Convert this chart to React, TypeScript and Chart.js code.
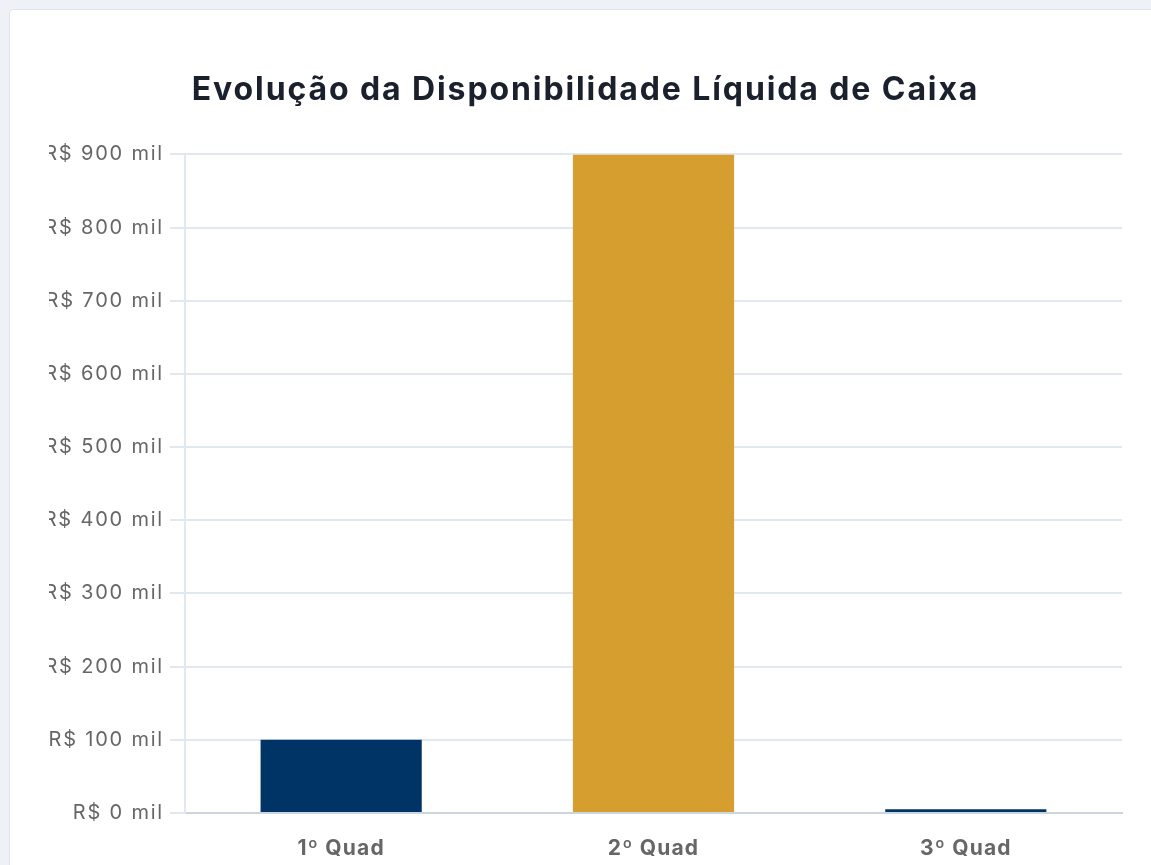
import React, { useEffect, useRef } from "react";
import { Chart, registerables } from "chart.js";

Chart.register(...registerables);

const categories = ["1º Quad", "2º Quad", "3º Quad"];
const values = [100000, 900000, 5000];
const barColors = ["#003366", "#D69E2E", "#003366"];
const titleText = "Evolução da Disponibilidade Líquida de Caixa";

function withSpacing(obj: any, method: string, spacing: string) {
  const orig = obj[method];
  obj[method] = function (...args: any[]) {
    const ctx = this.ctx;
    ctx.save();
    ctx.letterSpacing = spacing;
    const r = orig.apply(this, args);
    ctx.restore();
    return r;
  };
}

export default function App() {
  const ref = useRef<HTMLCanvasElement | null>(null);

  useEffect(() => {
    document.body.style.margin = "0";
    document.body.style.background = "#eef2f7";
    document.body.style.overflow = "hidden";
    if (!ref.current) return;
    const chart = new Chart(ref.current, {
      type: "bar",
      data: {
        labels: categories,
        datasets: [
          {
            data: values,
            backgroundColor: barColors,
            barPercentage: 0.645,
            categoryPercentage: 0.8,
          },
        ],
      },
      options: {
        animation: false,
        responsive: false,
        maintainAspectRatio: false,
        layout: { padding: { top: 0, right: 2, bottom: 0, left: 0 } },
        plugins: {
          legend: { display: false },
          tooltip: { enabled: false },
          title: {
            display: true,
            text: titleText,
            color: "#1a202c",
            font: { family: "Inter", size: 32, weight: "bold" },
            padding: { top: 26, bottom: 45 },
          },
        },
        scales: {
          x: {
            grid: { display: false, drawTicks: false },
            border: { color: "#cbd5e0", width: 2 },
            ticks: {
              color: "#666",
              padding: 23,
              font: { family: "Inter", size: 21, weight: "bold" },
            },
            afterFit: (s: any) => {
              s.height = 67;
            },
          },
          y: {
            beginAtZero: true,
            max: 900000,
            grid: { color: "#e2e8f0", tickLength: 15, lineWidth: 2 },
            border: { color: "#e2e8f0", width: 2 },
            ticks: {
              stepSize: 100000,
              color: "#666",
              padding: 6,
              font: { family: "Inter", size: 20 },
              callback: (v: any) => "R$ " + Number(v) / 1000 + " mil",
            },
            afterFit: (s: any) => {
              s.width = 136;
            },
          },
        },
      },
    });
    const c = chart as any;
    withSpacing(c.scales.x, "drawLabels", "1.2px");
    withSpacing(c.scales.y, "drawLabels", "1.8px");
    if (c.titleBlock) withSpacing(c.titleBlock, "draw", "1.9px");
    chart.draw();
    return () => chart.destroy();
  }, []);

  return (
    <div style={{ position: "relative", width: 1151, height: 865 }}>
      <div
        style={{
          position: "absolute",
          left: 9,
          top: 9,
          width: 1200,
          height: 900,
          background: "#ffffff",
          border: "1px solid #dfe5ec",
          borderRadius: 4,
        }}
      />
      <canvas
        ref={ref}
        width={1075}
        height={835}
        style={{ position: "absolute", left: 49, top: 45, width: 1075, height: 835 }}
      />
    </div>
  );
}
